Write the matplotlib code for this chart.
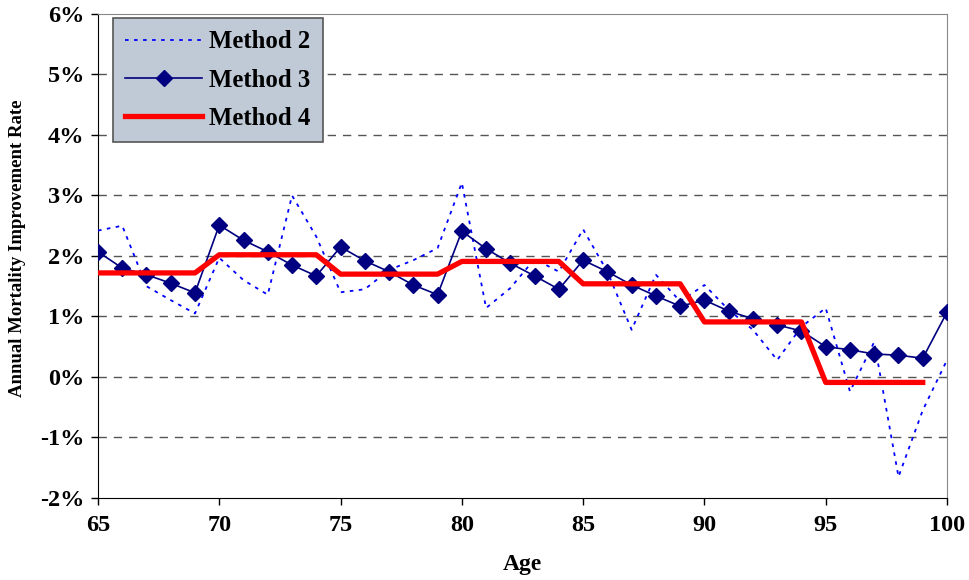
import numpy as np
import matplotlib
matplotlib.use("Agg")
import matplotlib.pyplot as plt
from matplotlib.ticker import FuncFormatter

plt.rcParams.update({
    "font.family": ["Liberation Serif", "DejaVu Serif"],
    "font.weight": "bold",
})

# --- dados ---
idades = np.arange(65, 101)

metodo2 = [2.42, 2.50, 1.50, 1.27, 1.05, 1.97, 1.60, 1.36, 3.00, 2.32,
           1.40, 1.45, 1.77, 1.93, 2.13, 3.21, 1.14, 1.47, 1.95, 1.74,
           2.44, 1.74, 0.78, 1.69, 1.25, 1.52, 1.11, 0.78, 0.28, 0.83,
           1.14, -0.24, 0.58, -1.65, -0.55, 0.28]

metodo3 = [2.07, 1.80, 1.69, 1.55, 1.39, 2.51, 2.26, 2.07, 1.85, 1.67,
           2.15, 1.92, 1.74, 1.52, 1.36, 2.41, 2.12, 1.88, 1.67, 1.45,
           1.93, 1.74, 1.52, 1.34, 1.17, 1.27, 1.09, 0.96, 0.86, 0.76,
           0.50, 0.45, 0.38, 0.36, 0.31, 1.07]

# Método 4: um valor por faixa de 5 anos (65-99)
faixas_m4 = [1.72, 2.02, 1.70, 1.91, 1.54, 0.91, -0.09]
idades_m4 = np.arange(65, 100)
metodo4 = np.repeat(faixas_m4, 5)

fig = plt.figure(figsize=(9.69, 5.80), dpi=100)
ax = fig.add_axes([0.1011, 0.1414, 0.8762, 0.8345])

# grade horizontal tracejada
for yv in range(-1, 6):
    ax.axhline(yv, color="#555555", lw=1.0, ls=(0, (6, 5)), zorder=1)

ax.plot(idades, metodo2, color="#0000FF", lw=1.3, ls=(0, (2, 3)), label="Method 2", zorder=3)
ax.plot(idades, metodo3, color="#000080", lw=1.2, marker="D", markersize=8,
        label="Method 3", zorder=4)
ax.plot(idades_m4, metodo4, color="#FF0000", lw=3.8, label="Method 4", zorder=5)

ax.set_xlim(65, 100)
ax.set_ylim(-2, 6)
ax.set_xticks(range(65, 101, 5))
ax.set_yticks(range(-2, 7))
ax.yaxis.set_major_formatter(FuncFormatter(lambda v, p: f"{int(v)}%"))
ax.tick_params(axis="both", direction="out", length=5, width=1, labelsize=17.5, pad=5)
ax.tick_params(axis="x", pad=7)

for lado in ["top", "right"]:
    ax.spines[lado].set_color("#888888")
for lado in ["left", "bottom"]:
    ax.spines[lado].set_color("black")

ax.set_xlabel("Age", fontsize=17, fontweight="bold", labelpad=13)
ax.set_ylabel("Annual Mortality Improvement Rate", fontsize=13.5, fontweight="bold")
ax.yaxis.set_label_coords(-0.085, 0.517)

leg = ax.legend(loc="upper left", bbox_to_anchor=(0.0177, 0.9917), fontsize=17.8,
                handlelength=3.1, handletextpad=0.3, labelspacing=0.62, borderpad=0.5,
                borderaxespad=0, fancybox=False, framealpha=1)
leg.get_frame().set_facecolor("#C0CAD6")
leg.get_frame().set_edgecolor("#555555")
leg.get_frame().set_linewidth(1.2)

fig.savefig("out.png", dpi=100)
